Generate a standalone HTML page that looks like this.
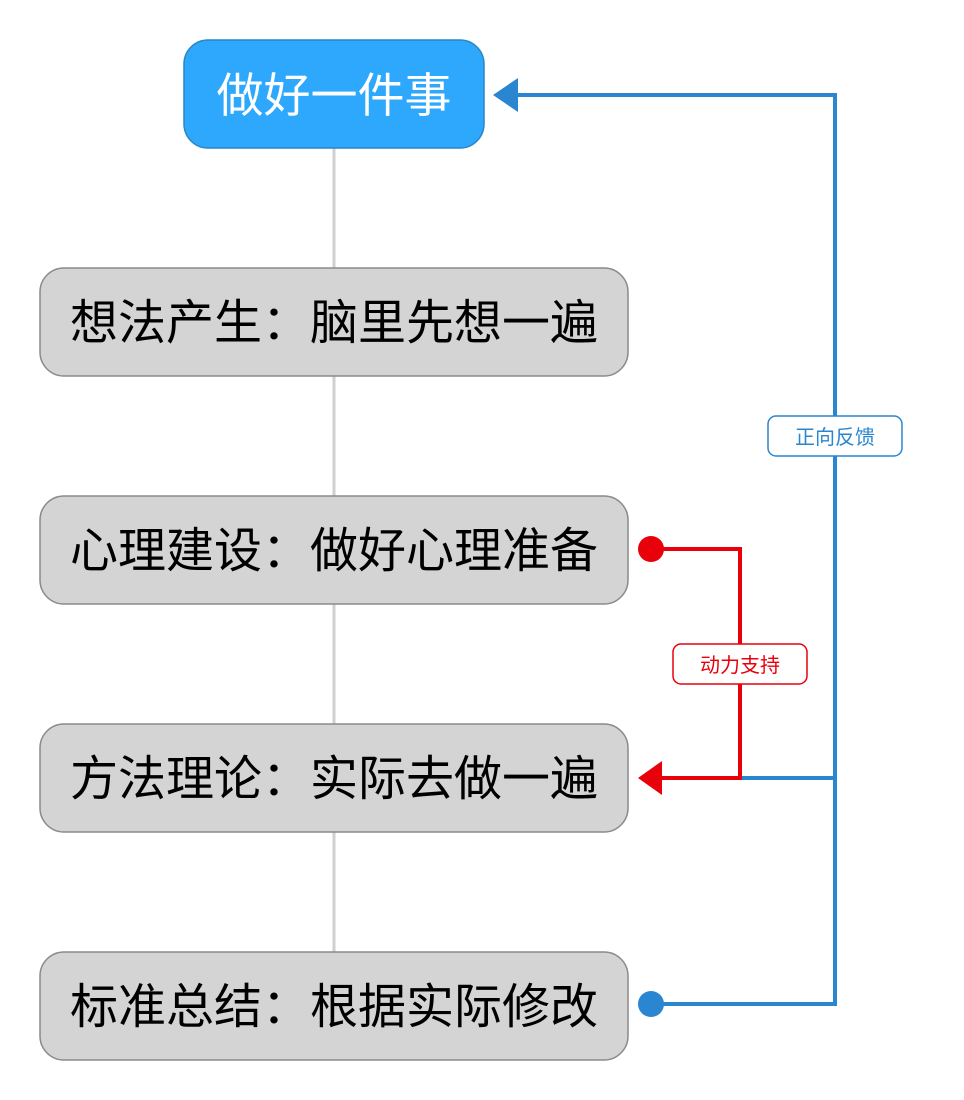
<!DOCTYPE html>
<html><head><meta charset="utf-8"><style>
html,body{margin:0;padding:0;background:#fff;}
svg{display:block;}
text{font-family:"Liberation Sans","Noto Sans CJK SC",sans-serif;}
</style></head><body>
<svg width="964" height="1100" viewBox="0 0 964 1100" xmlns="http://www.w3.org/2000/svg">
<line x1="334" y1="148" x2="334" y2="952" stroke="#d0d0d0" stroke-width="3"/>
<rect x="184" y="40" width="300" height="108" rx="24" fill="#2ea8fc" stroke="#2a86c8" stroke-width="1.5"/>
<text x="334" y="112" font-size="47" fill="#fff" text-anchor="middle">做好一件事</text>
<g fill="#d4d4d4" stroke="#8a8a8a" stroke-width="1.5">
<rect x="40" y="268" width="588" height="108" rx="24"/>
<rect x="40" y="496" width="588" height="108" rx="24"/>
<rect x="40" y="724" width="588" height="108" rx="24"/>
<rect x="40" y="952" width="588" height="108" rx="24"/>
</g>
<g font-size="48" fill="#000" text-anchor="middle">
<text x="334" y="339">想法产生：脑里先想一遍</text>
<text x="334" y="567">心理建设：做好心理准备</text>
<text x="334" y="795">方法理论：实际去做一遍</text>
<text x="334" y="1023">标准总结：根据实际修改</text>
</g>
<!-- blue -->
<polyline points="651,1004 835,1004 835,95 515,95" fill="none" stroke="#2a86d0" stroke-width="4"/>
<line x1="740" y1="778" x2="835" y2="778" stroke="#2a86d0" stroke-width="4"/>
<circle cx="651" cy="1004" r="13" fill="#2a86d0"/>
<polygon points="493,95 518,78 518,112" fill="#2a86d0"/>
<rect x="768" y="416" width="134" height="40" rx="8" fill="#fff" stroke="#2a86d0" stroke-width="1.5"/>
<text x="835" y="444" font-size="20" fill="#2a86d0" text-anchor="middle">正向反馈</text>
<!-- red -->
<polyline points="651,549 740,549 740,778 660,778" fill="none" stroke="#e8000b" stroke-width="4"/>
<circle cx="651" cy="549" r="13" fill="#e8000b"/>
<polygon points="638,778 662,761 662,795" fill="#e8000b"/>
<rect x="673" y="644" width="134" height="40" rx="8" fill="#fff" stroke="#e8000b" stroke-width="1.5"/>
<text x="740" y="672" font-size="20" fill="#e8000b" text-anchor="middle">动力支持</text>
</svg>
</body></html>
